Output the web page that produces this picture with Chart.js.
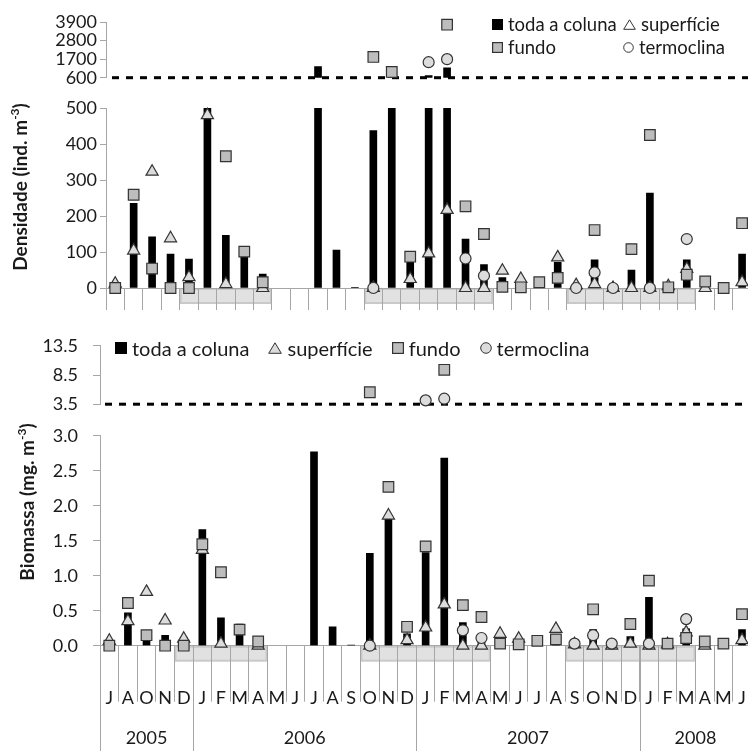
<!DOCTYPE html>
<html lang="pt">
<head>
  <meta charset="UTF-8" />
  <title>Densidade e biomassa</title>
  <script src="https://cdn.jsdelivr.net/npm/chart.js"></script>
  <style>
    html, body { margin: 0; padding: 0; background: #fff; overflow: hidden; }
    #wrap { position: relative; width: 748px; height: 751px; overflow: hidden;
            font-family: Lato, "Open Sans", sans-serif; color: #1a1a1a; }
    .box { position: absolute; left: 0; }
    .box canvas { display: block; }
    .ytitle { position: absolute; font-weight: bold; font-size: 19px; white-space: nowrap;
              transform: translate(-50%, -50%) rotate(-90deg); }
    .ytitle sup { font-size: 12px; }
    .legend { position: absolute; }
    .legend .item { display: flex; align-items: center; gap: 5px; white-space: nowrap; }
    #legTop { left: 492px; top: 13px; display: grid; grid-template-columns: 131px auto;
              font-size: 18.5px; line-height: 23px; }
    #legBottom { left: 115px; top: 336px; display: flex; gap: 19px; font-size: 20px; line-height: 24px; }
  </style>
</head>
<body>
<div id="wrap">
  <div class="box" style="top:0"><canvas id="densUp" width="760" height="100"></canvas></div>
  <div class="box" style="top:78px"><canvas id="densLow" width="760" height="234"></canvas></div>
  <div class="box" style="top:320px"><canvas id="bioUp" width="760" height="110"></canvas></div>
  <div class="box" style="top:410px"><canvas id="bioLow" width="760" height="341"></canvas></div>

  <div class="ytitle" style="left:19px; top:187px">Densidade (ind. m<sup>-3</sup>)</div>
  <div class="ytitle" style="left:26px; top:502px">Biomassa (mg. m<sup>-3</sup>)</div>

  <div id="legTop" class="legend"></div>
  <div id="legBottom" class="legend"></div>
</div>

<script>
  // categories
  const months = ['J','A','O','N','D',
                  'J','F','M','A','M','J','J','A','S','O','N','D',
                  'J','F','M','A','M','J','J','A','S','O','N','D',
                  'J','F','M','A','M','J'];
  const years = ['2005', '2006', '2007', '2008'];
  const yearFirstMonth = [0, 5, 17, 29];
  const shadedMonths = [[4, 8], [14, 20], [25, 31]];
  const seriesNames = ['toda a coluna', 'superfície', 'fundo', 'termoclina'];

  // Densidade (ind. m-3)
  const densColuna     = [5, 235, 142, 94, 80, 560, 146, 85, 39, null, null, 1256, 105, 2, 437, 650, 75, 720, 1178, 136, 65, 29, 10, 18, 71, 10, 78, 3, 50, 264, 5, 78, 5, 5, 94];
  const densSuperficie = [12, 104, 323, 138, 30, 480, 11, null, 0, null, null, null, null, null, 0, null, 25, 96, 217, 0, 0, 48, 25, null, 85, 8, 11, 0, 0, 0, 5, 53, 0, null, 16];
  const densFundo      = [0, 259, 54, 0, 0, 559, 366, 101, 16, null, null, null, null, null, 1830, 940, 87, null, 3741, 227, 150, 3, 2, 16, 28, null, 161, null, 108, 425, 2, 37, 18, 0, 180];
  const densTermoclina = [null, null, null, null, null, null, null, null, null, null, null, null, null, null, 0, null, null, 1518, 1697, 82, 34, null, null, null, null, 0, 43, 0, null, 0, null, 136, null, null, null];
  const densLowerTicks = [0, 100, 200, 300, 400, 500];
  const densUpperTicks = [600, 1700, 2800, 3900];

  // Biomassa (mg. m-3)
  const bioColuna     = [0.02, 0.47, 0.12, 0.15, 0.12, 1.66, 0.40, 0.31, 0.03, null, null, 2.77, 0.27, 0.01, 1.32, 1.84, 0.17, 1.33, 2.68, 0.33, 0.05, 0.10, 0.05, 0.10, 0.10, 0.06, 0.23, 0.02, 0.13, 0.69, 0.03, 0.24, 0.02, 0.05, 0.23];
  const bioSuperficie = [0.07, 0.35, 0.77, 0.36, 0.10, 1.37, 0.03, null, 0, null, null, null, null, null, 0, 1.86, 0.08, 0.26, 0.59, 0, 0, 0.17, 0.10, null, 0.24, 0.02, 0, 0, 0.03, 0, 0.02, 0.19, 0, null, 0.08];
  const bioFundo      = [0, 0.61, 0.15, 0, 0, 1.45, 1.05, 0.23, 0.06, null, null, null, null, null, 5.55, 2.27, 0.27, 1.42, 9.39, 0.58, 0.41, 0.03, 0.02, 0.07, 0.09, null, 0.52, null, 0.31, 0.93, 0.03, 0.11, 0.06, 0.03, 0.45];
  const bioTermoclina = [null, null, null, null, null, null, null, null, null, null, null, null, null, null, 0, null, null, 4.16, 4.44, 0.22, 0.11, null, null, null, null, 0.03, 0.15, 0.03, null, 0.03, null, 0.38, null, null, null];
  const bioLowerTicks = [0, 0.5, 1.0, 1.5, 2.0, 2.5, 3.0];
  const bioUpperTicks = [3.5, 8.5, 13.5];

  const axisGray = '#a6a6a6';
  const ink = '#1a1a1a';
  Chart.defaults.font.family = 'Lato, "Open Sans", sans-serif';
  Chart.defaults.color = ink;

  const markers = [
    { shape: 'triangle', radius: 7,   fill: '#dcdcdc', order: 3 },
    { shape: 'rect',     radius: 7.5, fill: '#bdbdbd', order: 2 },
    { shape: 'circle',   radius: 5.5, fill: '#dcdcdc', order: 1 }
  ];

  // values above the break go to the upper part, the rest to the lower part
  const lowPart  = (arr, cut) => arr.map(v => v == null || v >= cut ? null : v);
  const highPart = (arr, cut) => arr.map(v => v != null && v >= cut ? v : null);

  function barSet(data) {
    return { type: 'bar', label: seriesNames[0], data, backgroundColor: '#000',
             barThickness: 7, order: 4 };
  }
  function pointSet(i, data) {
    const m = markers[i];
    return { type: 'line', label: seriesNames[i + 1], data, showLine: false, clip: false,
             order: m.order, pointStyle: m.shape, pointRadius: m.radius, pointHoverRadius: m.radius,
             pointBackgroundColor: m.fill, pointBorderColor: '#333', pointBorderWidth: 1.2 };
  }

  function yScale(ticks, width, tickLen, pad, fmt) {
    return {
      min: ticks[0], max: ticks[ticks.length - 1],
      afterFit: s => { s.width = width; },
      ticks: { stepSize: ticks[1] - ticks[0], padding: pad, callback: fmt, autoSkip: false,
               font: { size: 18 }, color: ink },
      grid: { drawOnChartArea: false, drawTicks: true, tickLength: tickLen, color: axisGray },
      border: { color: axisGray }
    };
  }

  const halfCat = x => (x.getPixelForValue(1) - x.getPixelForValue(0)) / 2;

  // dashed line marking the axis break
  const breakLine = {
    id: 'breakLine',
    beforeDatasetsDraw(chart, args, opts) {
      const { ctx, chartArea: a } = chart;
      ctx.save();
      ctx.strokeStyle = '#000';
      ctx.lineWidth = 3;
      ctx.setLineDash([7, 7]);
      ctx.beginPath();
      ctx.moveTo(a.left + opts.start, a.bottom);
      ctx.lineTo(a.right, a.bottom);
      ctx.stroke();
      ctx.restore();
    }
  };

  // grey boxes under the month axis
  const shading = {
    id: 'shading',
    beforeDraw(chart) {
      const { ctx, chartArea: a, scales: { x } } = chart;
      const h = halfCat(x);
      ctx.save();
      ctx.fillStyle = 'rgba(205,205,205,0.6)';
      ctx.strokeStyle = '#c9c9c9';
      ctx.lineWidth = 2;
      shadedMonths.forEach(([s, e]) => {
        const l = x.getPixelForValue(s) - h + 1;
        const r = x.getPixelForValue(e) + h - 1;
        ctx.fillRect(l, a.bottom + 1, r - l, 14);
        ctx.strokeRect(l, a.bottom + 1, r - l, 14);
      });
      ctx.restore();
    }
  };

  // year row below the month letters
  const yearRow = {
    id: 'yearRow',
    afterDraw(chart) {
      const { ctx, chartArea: a, scales: { x } } = chart;
      const h = halfCat(x);
      const edges = yearFirstMonth.map(i => x.getPixelForValue(i) - h);
      edges.push(x.getPixelForValue(months.length - 1) + h);
      ctx.save();
      ctx.strokeStyle = axisGray;
      ctx.lineWidth = 1;
      edges.slice(0, -1).forEach(px => {
        const p = Math.round(px) + 0.5;
        ctx.beginPath();
        ctx.moveTo(p, a.bottom);
        ctx.lineTo(p, chart.height);
        ctx.stroke();
      });
      ctx.fillStyle = ink;
      ctx.font = '18px Lato, "Open Sans", sans-serif';
      ctx.textAlign = 'center';
      ctx.textBaseline = 'middle';
      years.forEach((yr, i) => ctx.fillText(yr, (edges[i] + edges[i + 1]) / 2, chart.height - 13));
      ctx.restore();
    }
  };

  function upperChart(id, col, pts, ticks, cut, leftW, tickLen, pad, fmt, padding, dashStart) {
    return new Chart(document.getElementById(id), {
      type: 'bar',
      data: {
        labels: months,
        datasets: [
          barSet(col.map(v => v != null && v > cut ? v : null)),
          ...pts.map((p, i) => pointSet(i, highPart(p, cut)))
        ]
      },
      options: {
        responsive: false, animation: false,
        layout: { padding },
        plugins: { legend: { display: false }, tooltip: { enabled: false },
                   breakLine: { start: dashStart } },
        scales: {
          x: { display: false },
          y: yScale(ticks, leftW, tickLen, pad, fmt)
        }
      },
      plugins: [breakLine]
    });
  }

  function lowerChart(id, col, pts, ticks, cut, leftW, tickLen, pad, fmt, padding, xCfg, extra) {
    const top = ticks[ticks.length - 1];
    return new Chart(document.getElementById(id), {
      type: 'bar',
      data: {
        labels: months,
        datasets: [
          barSet(col.map(v => v == null ? null : Math.min(v, top))),
          ...pts.map((p, i) => pointSet(i, lowPart(p, cut)))
        ]
      },
      options: {
        responsive: false, animation: false,
        layout: { padding },
        plugins: { legend: { display: false }, tooltip: { enabled: false } },
        scales: {
          x: {
            afterFit: s => { s.height = xCfg.height; },
            grid: { display: true, drawOnChartArea: false, drawTicks: true, offset: true,
                    tickLength: xCfg.tickLength, color: axisGray },
            border: { color: axisGray },
            ticks: xCfg.ticks
          },
          y: yScale(ticks, leftW, tickLen, pad, fmt)
        }
      },
      plugins: extra
    });
  }

  const intFmt = v => String(v);
  const decFmt = v => v.toFixed(1);

  const densPts = [densSuperficie, densFundo, densTermoclina];
  const bioPts = [bioSuperficie, bioFundo, bioTermoclina];

  upperChart('densUp', densColuna, densPts, densUpperTicks, 600, 106, 6, 3, intFmt,
             { top: 22, bottom: 22.3, left: 0, right: 4.75 }, 6);
  lowerChart('densLow', densColuna, densPts, densLowerTicks, 600, 106, 6, 3, intFmt,
             { top: 30, bottom: 0, left: 0, right: 4.75 },
             { height: 24, tickLength: 22, ticks: { display: false } },
             [shading]);
  upperChart('bioUp', bioColuna, bioPts, bioUpperTicks, 3.5, 100, 7, 15, decFmt,
             { top: 25, bottom: 24.3, left: 0, right: 4.5 }, 5);
  lowerChart('bioLow', bioColuna, bioPts, bioLowerTicks, 3.5, 100, 7, 15, decFmt,
             { top: 20, bottom: 0, left: 0, right: 4.5 },
             { height: 105.3, tickLength: 56,
               ticks: { autoSkip: false, maxRotation: 0, padding: -14, font: { size: 18 }, color: ink } },
             [shading, yearRow]);

  // legends
  function icon(kind, s, fill) {
    const h = s / 2;
    if (kind === 'bar') return `<svg width="${s}" height="${s}"><rect width="${s}" height="${s}" fill="#000"/></svg>`;
    if (kind === 'triangle') return `<svg width="${s + 2}" height="${s}"><polygon points="${h + 1},0.8 ${s + 1.3},${s - 0.7} 0.7,${s - 0.7}" fill="${fill}" stroke="#333" stroke-width="1"/></svg>`;
    if (kind === 'rect') return `<svg width="${s}" height="${s}"><rect x="0.6" y="0.6" width="${s - 1.2}" height="${s - 1.2}" fill="${fill}" stroke="#333" stroke-width="1.2"/></svg>`;
    return `<svg width="${s}" height="${s}"><circle cx="${h}" cy="${h}" r="${h - 0.7}" fill="${fill}" stroke="#333" stroke-width="1"/></svg>`;
  }
  const kinds = ['bar', 'triangle', 'rect', 'circle'];
  function buildLegend(id, size, fills) {
    document.getElementById(id).innerHTML = seriesNames.map((name, i) =>
      `<div class="item">${icon(kinds[i], size, fills[i])}<span>${name}</span></div>`).join('');
  }
  buildLegend('legTop', 11, ['#000', '#fff', '#bdbdbd', '#fff']);
  buildLegend('legBottom', 12, ['#000', '#dcdcdc', '#bdbdbd', '#dcdcdc']);
</script>
</body>
</html>
